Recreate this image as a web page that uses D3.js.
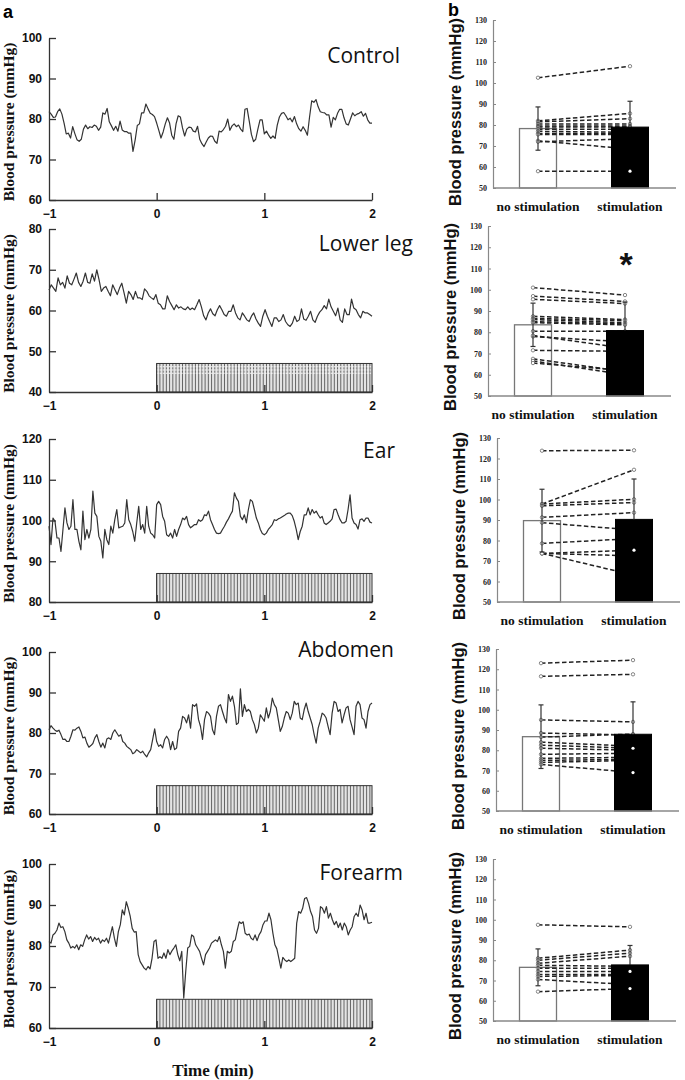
<!DOCTYPE html>
<html><head><meta charset="utf-8">
<script src="https://cdn.jsdelivr.net/npm/d3@7"></script>
<style>body{margin:0;background:#fff} svg{display:block}</style>
</head><body>
<script>
// ---------------- DATA ----------------
const regions = ["Control", "Lower leg", "Ear", "Abdomen", "Forearm"];
const timeDomain = [-1, 2];            // min, each series evenly sampled across this window
const timeTicks = [-1, 0, 1, 2];
const stimWindow = [0, 2];              // min
const pulseStep = 0.03;                 // min between stimulation pulses
const stimLevels = [null, 47, 87, 67, 67];
const yDomainsA = [[60, 100], [40, 80], [80, 120], [60, 100], [60, 100]];

const controlBP = [81.8,81.2,80.4,80.5,81.8,82.5,81.2,79,76.3,76.5,75.3,78.1,76.4,74.9,74.5,75,77.5,78.5,77.6,78.1,77.9,78.5,78.2,77.2,78,81.5,81.2,82.6,79.3,78.3,77.2,78.2,77,79.5,77.3,76.9,76.9,76.5,76.5,72,74.8,78.4,78.8,81.5,81.5,83.7,82.5,81.4,81.1,80.6,79,77.2,75.3,76.8,78.8,80.3,79,76,75,78.8,80.8,80.5,77.8,75.8,77.5,78,77.9,77,76.8,78.2,75,73.9,73.2,74.3,75.3,75.8,75.7,74.5,74,77,76.8,77.4,78.2,80,77.2,78.3,78.8,78.1,78.5,77.5,76.9,82.4,82.6,79.5,76.2,74.4,75,77.5,79.8,79.8,76.3,77,76,75.2,75.8,75.2,78.5,80.5,81.4,81.6,80.8,79.8,80.2,79.3,80.6,78.8,77.6,77,78.1,77.2,76,80.5,84.5,84.1,84.8,83,81.8,81.6,81.5,81,81,78,80.4,79.8,81.4,82.4,82.4,80.3,78.8,78.5,80,81.5,80.8,81.2,81.4,81.8,80.7,81.4,79.8,79,79];

const lowerLegBP = [65,66.3,65.5,64.7,68,66.3,66.9,65.5,68.5,66.7,66.3,67.7,69.2,66.9,65.9,67.2,69.2,66.9,66.7,69,67.2,70,67.6,64.7,65.5,65.9,64.7,63.6,66.3,65.1,63.9,65.5,66.7,64.3,61.8,64.7,63.9,62.7,64.7,63.1,63.1,62.7,65.3,64.7,63.6,63.1,62.7,63.9,61.8,61.4,60.4,60.4,63.6,62.2,61.2,60.2,61.4,60.6,60.9,60.4,60.2,60.9,60.2,60.6,60.2,61.4,62.7,60.9,58.7,57.7,59.4,60.4,59.2,58.7,60.2,61.2,60.2,59,58.6,59.8,59.8,61.4,59.4,58.2,57.7,59.4,58.6,57.7,57.3,58.6,59.4,57.9,56.9,56.1,58.6,60.2,58.6,57.3,56.1,58.2,58.2,57.3,57.7,59,57.3,56.5,56.1,56.9,58.6,57.3,57.7,60.4,57.9,57.6,58.6,59.8,57.7,57.1,58.6,59.6,60.2,61.2,60.4,62.8,60.9,59.8,58.7,60.6,57.7,57.1,60.4,59,59,62.8,60.6,60.2,59,58.2,59.8,59.4,59.4,59,58.6];

const earBP = [98.6,94.1,100.6,99.8,95.7,95.7,92.4,97.8,103.1,99.4,97.8,98.6,105.1,97.8,97.8,94.9,92.8,102.3,95.3,97.8,95.7,97.8,107.2,101.8,101,96.1,94.9,90.8,97.8,95.3,94.1,98.6,96.9,100.2,102.7,98.2,98.4,98.6,99.4,105.1,100.2,99,97.3,94.9,99.4,103.5,97.8,99,96.9,103.5,98.6,96.9,96.5,95.7,103.9,104.7,103.9,101,99.8,96.5,96.1,96.9,95.7,97.8,96.1,97.8,99,100.6,100.2,101,99,98.2,98.6,99,99,100.2,99.8,100.2,101.4,101.2,102.3,100.2,99,97.8,96.9,96.8,96.9,97.8,98.6,99.6,100.4,101.4,102.3,106.8,105.5,104.7,101,100.2,101.4,99.4,102.7,105.1,104.7,102.7,100.6,99.4,97.8,96.8,96.5,96.9,97.8,98.4,99,100.2,100,100.4,100.6,100.9,101.2,101.6,101.8,101.8,101.2,99.8,97.8,95.3,97.3,98.6,101.4,101.4,103.1,101.4,102.7,101.8,102.3,101.4,100.6,101,99.4,99,99.4,99.8,100.4,102.7,102.8,101.4,100.2,99.4,99.4,99.8,102.7,106.3,100.6,99.4,99,97.9,100.2,100.4,99.8,100.6,100.6,99.6,99.4];

const abdomenBP = [80.8,81.8,81.2,80.7,80.4,80.7,79.6,78.4,78.5,77.9,77.9,79.2,80.8,80.7,81.2,81.5,80.4,78.8,79,77.5,76.5,76.9,77.4,78.8,79.6,77.9,76.5,77.5,76.3,78.5,78.8,78.4,80,80.8,80,79.2,79.6,77.9,77.5,76.7,76.3,75.9,74.9,75.2,75.9,75.5,75.1,75.5,74.7,74.1,75.1,75.9,78.4,81,77.9,76.7,77.1,76.3,78.4,79.2,78.4,75.9,77.9,75.9,76.3,80.4,81.2,84.1,83.7,82.5,84.5,81.2,87,86.6,87.2,83.3,81.6,78.4,83.3,85.3,84.9,84.1,80.8,79.6,84.1,86.6,87,85.3,83.7,82.5,89.5,87.8,89.1,86.6,82.1,82.5,90.9,84.1,87,85.3,85.8,85.3,83.3,82.1,80,81.2,84.5,83.7,82.9,86.2,83.7,85.3,88.6,87,86.2,83.3,80.4,81.6,83.7,85.3,84.9,83.3,84.9,87.8,87,87.4,83.7,83.3,85.8,87.4,85.3,83.7,82.1,79.6,77.5,81.2,82.9,84.9,84.5,83.7,81.6,79.6,84.9,87.8,87.4,85.3,85.8,82.5,84.5,86.2,86.6,83.3,81.5,79.6,86.6,87.8,87,83.7,83.3,81.2,85.3,87,87.4];

const forearmBP = [81.1,80.7,82.7,83.1,83.9,85.6,84.5,84.7,83.5,81.5,80.7,79.5,79.9,79.5,80.3,79.1,80.3,79.9,81.5,82.7,81.7,82.3,81.1,82.1,81.5,81.9,80.7,81.5,81.1,81.9,80.7,82.7,84.7,81.9,79.9,83.5,85.2,88.8,87.6,90.8,89.2,87.2,84.3,83.4,83.5,77.9,76.2,75.4,74.6,74.2,75,74.4,77,81.1,81.5,77,77.4,77,78.3,77,79.1,77.9,78.8,79.5,80.3,77.9,76.4,78.7,67.3,73.8,79.5,79.9,82.7,82.3,80.3,79.5,78.7,77,75.4,77.9,78.7,79.5,80.7,81.1,81.5,81.1,82.3,80.3,78.7,74.6,78.7,78.3,78.7,81.1,81.5,83.9,85.9,85.5,85.9,83.1,82.7,82.9,81.9,81.5,82.7,81.3,82.7,83.5,85.2,86.1,86.1,88,86.4,83.1,80.3,79.3,77,74.6,77.2,76.6,76.2,76.6,76.2,76.6,77,85.6,88.4,88,89.2,91.6,91.8,90.4,88.4,87.2,83.9,83.1,84.3,89.6,89.2,88,89.6,86.8,88,86.4,85.2,86,84.5,85.6,83.9,85.6,84.7,82.7,83.9,84.7,87.2,88,87.2,90,88.8,86.4,88,85.6,85.6,85.8];

// panel b
const groups = ["no stimulation", "stimulation"];
const bTicks = [50, 60, 70, 80, 90, 100, 110, 120, 130];
const controlPairs = [[102.5,108],[82,85.5],[81.5,83],[80.5,80.5],[79.5,79.5],[79,79],[78,78],[77,76.5],[76,76],[75.5,75.5],[72.5,68.5],[72,73.5],[58,58]];
const lowerLegPairs = [[101,97.5],[97,94.5],[95.5,93.5],[87.5,86],[86.5,85.5],[86,84.5],[85,84],[84.5,83.5],[80.5,80.5],[78,75.5],[78.5,72.5],[71.5,71],[67.5,61.5],[66.5,60],[65.5,62]];
const earPairs = [[123.8,124],[97.8,114.5],[97.8,100.1],[96.9,98.5],[91.3,93.6],[88.7,85.1],[78.6,81],[73.7,75.3],[73.7,72.5],[73.7,63.1]];
const abdomenPairs = [[123,124.5],[116.5,117.5],[95,94],[88.5,87.5],[86.5,88],[84,82],[82.5,81],[81,80],[78,78.5],[76,76.5],[75,75.5],[74,75],[73,69]];
const forearmPairs = [[97.5,96.5],[81,85],[80,83.5],[78.5,82],[77.5,77],[76,76],[74.5,74.5],[73,73],[72,72.5],[70.5,68],[64.5,66]];
// subjects whose stimulation value shows as a white dot inside the black bar
const dotsInBar = [[12], [], [7], [6, 12], [6, 10]];
const meansB = [[78.3,79.0],[83.5,80.8],[89.7,90.3],[86.7,87.9],[76.5,77.7]];
const sdB = [[10.3,12.3],[10.2,13.4],[15.3,19.7],[15.7,16.0],[9.1,9.6]];
const significant = [false, true, false, false, false];

const seriesA = [controlBP, lowerLegBP, earBP, abdomenBP, forearmBP];
const pairsB = [controlPairs, lowerLegPairs, earPairs, abdomenPairs, forearmPairs];

// ---------------- LAYOUT ----------------
const layoutA = [
  {top:38,  bottom:200,  titleX:400, titleY:63},
  {top:229, bottom:392,  titleX:413, titleY:251},
  {top:439, bottom:602,  titleX:395, titleY:458},
  {top:652, bottom:814,  titleX:394, titleY:657},
  {top:864, bottom:1028, titleX:403, titleY:880}
];
const layoutB = [
  {top:20,  bottom:188,  axisX:493, labelDy:8},
  {top:226, bottom:396,  axisX:488, labelDy:6},
  {top:438, bottom:602,  axisX:497, labelDy:6},
  {top:649, bottom:811,  axisX:496, labelDy:6},
  {top:859, bottom:1021, axisX:493, labelDy:6}
];

const svg = d3.select("body").append("svg").attr("width", 685).attr("height", 1080)
  .style("font-family", "'Liberation Sans', Arial, sans-serif");

const ink = "#333";
const x = d3.scaleLinear().domain(timeDomain).range([49, 372]);

// panel letters
svg.append("text").attr("x", 3).attr("y", 18).text("a")
  .attr("font-size", 18).attr("font-weight", "bold");
svg.append("text").attr("x", 448).attr("y", 16).text("b")
  .attr("font-size", 18).attr("font-weight", "bold");

// ---------------- PANEL A ----------------
layoutA.forEach((L, i) => {
  const dom = yDomainsA[i];
  const y = d3.scaleLinear().domain(dom).range([L.bottom, L.top]);
  const g = svg.append("g");
  const vals = seriesA[i];
  const n = vals.length;
  const pts = vals.map((v, k) => [timeDomain[0] + (timeDomain[1] - timeDomain[0]) * k / (n - 1), v]);

  if (stimLevels[i] != null) {
    const x0 = x(stimWindow[0]), x1 = x(stimWindow[1]);
    const yt = y(stimLevels[i]), yb = y(dom[0]);
    g.append("rect").attr("x", x0).attr("y", yt).attr("width", x1 - x0).attr("height", yb - yt)
      .attr("fill", "#e4e4e4");
    const pulses = d3.range(stimWindow[0], stimWindow[1] + 1e-9, pulseStep);
    g.selectAll("line.pulse").data(pulses).join("line").attr("class", "pulse")
      .attr("x1", d => x(d)).attr("x2", d => x(d)).attr("y1", yt).attr("y2", yb)
      .attr("stroke", "#444").attr("stroke-width", 0.8);
    if (i === 1) {
      g.selectAll("line.h").data([46.2, 45.4, 44.6]).join("line").attr("class", "h")
        .attr("x1", x0).attr("x2", x1).attr("y1", d => y(d)).attr("y2", d => y(d))
        .attr("stroke", "#f8f8f8").attr("stroke-width", 1).attr("stroke-dasharray", "2,1");
    }
    g.append("rect").attr("x", x0).attr("y", yt).attr("width", x1 - x0).attr("height", yb - yt)
      .attr("fill", "none").attr("stroke", ink).attr("stroke-width", 1);
  }

  g.append("path").datum(pts)
    .attr("d", d3.line().x(d => x(d[0])).y(d => y(d[1])))
    .attr("fill", "none").attr("stroke", "#333").attr("stroke-width", 1.2)
    .attr("stroke-linejoin", "round");

  const ay = g.append("g").attr("transform", `translate(${x(timeDomain[0])},0)`)
    .call(d3.axisLeft(y).tickValues(d3.range(dom[0], dom[1] + 1, 10)).tickSize(-7).tickSizeOuter(0).tickPadding(7));
  const ax = g.append("g").attr("transform", `translate(0,${L.bottom})`)
    .call(d3.axisBottom(x).tickValues(timeTicks).tickFormat(d3.format("d")).tickSize(-7).tickSizeOuter(0).tickPadding(9));
  [ay, ax].forEach(a => {
    a.select(".domain").attr("stroke", ink).attr("stroke-width", 1.3);
    a.selectAll(".tick line").attr("stroke", ink).attr("stroke-width", 1.3);
    a.selectAll(".tick text").attr("fill", "#111")
      .attr("font-family", "'Liberation Sans Narrow','Arial Narrow',sans-serif")
      .attr("font-weight", "bold").attr("font-size", 12);
  });
  ax.selectAll(".tick").filter(d => d === timeDomain[0]).select("line").remove();

  g.append("text").attr("transform", `translate(14,${(L.top + L.bottom) / 2 + 3}) rotate(-90)`)
    .attr("text-anchor", "middle").text("Blood pressure (mmHg)")
    .attr("font-family", "'Liberation Serif','Times New Roman',serif")
    .attr("font-weight", "bold").attr("font-size", 15.5).attr("fill", "#111");

  g.append("text").attr("x", L.titleX).attr("y", L.titleY).attr("text-anchor", "end")
    .text(regions[i]).attr("font-family", "'Open Sans','Noto Sans',sans-serif")
    .attr("font-size", 21).attr("fill", "#111");
});

svg.append("text").attr("x", 213).attr("y", 1076).attr("text-anchor", "middle")
  .text("Time (min)").attr("font-family", "'Liberation Serif','Times New Roman',serif")
  .attr("font-weight", "bold").attr("font-size", 17).attr("fill", "#111");

// ---------------- PANEL B ----------------
layoutB.forEach((R, i) => {
  const y = d3.scaleLinear().domain([50, 130]).range([R.bottom, R.top]);
  const xc = d3.scalePoint().domain(groups).range([R.axisX + 45, R.axisX + 137]);
  const bw = 37;
  const g = svg.append("g");
  const means = meansB[i], sds = sdB[i];
  const pairs = pairsB[i];

  // white (no stimulation) bar, behind the paired lines
  g.append("rect").attr("x", xc(groups[0]) - bw / 2).attr("width", bw)
    .attr("y", y(means[0])).attr("height", y(50) - y(means[0]))
    .attr("fill", "#fff").attr("stroke", "#777").attr("stroke-width", 1.3);

  // paired lines
  g.selectAll("line.pair").data(pairs).join("line").attr("class", "pair")
    .attr("x1", xc(groups[0])).attr("x2", xc(groups[1]))
    .attr("y1", d => y(d[0])).attr("y2", d => y(d[1]))
    .attr("stroke", "#222").attr("stroke-width", 1.5).attr("stroke-dasharray", "4.5,2.5");
  const pts = pairs.flatMap(d => [[groups[0], d[0]], [groups[1], d[1]]]);
  g.selectAll("circle.pt").data(pts).join("circle").attr("class", "pt")
    .attr("cx", d => xc(d[0])).attr("cy", d => y(d[1])).attr("r", 1.7)
    .attr("fill", "#fff").attr("stroke", "#555").attr("stroke-width", 0.7);

  // black (stimulation) bar on top
  g.append("rect").attr("x", xc(groups[1]) - bw / 2).attr("width", bw)
    .attr("y", y(means[1])).attr("height", y(50) - y(means[1]))
    .attr("fill", "#000").attr("stroke", "#000").attr("stroke-width", 1);
  g.selectAll("circle.inbar").data(dotsInBar[i].map(k => pairs[k][1])).join("circle").attr("class", "inbar")
    .attr("cx", xc(groups[1])).attr("cy", d => y(d)).attr("r", 1.6).attr("fill", "#fff");

  // error bars (lower whisker of the black bar is hidden inside it)
  const eb = g.selectAll("g.eb").data(groups).join("g").attr("class", "eb");
  eb.append("line").attr("x1", d => xc(d)).attr("x2", d => xc(d))
    .attr("y1", (d, j) => j ? y(means[j]) : y(means[j] - sds[j])).attr("y2", (d, j) => y(means[j] + sds[j]))
    .attr("stroke", "#333").attr("stroke-width", 1.2);
  eb.append("line").attr("x1", d => xc(d) - 2.5).attr("x2", d => xc(d) + 2.5)
    .attr("y1", (d, j) => y(means[j] + sds[j])).attr("y2", (d, j) => y(means[j] + sds[j]))
    .attr("stroke", "#333").attr("stroke-width", 1.2);
  eb.filter((d, j) => j === 0).append("line").attr("x1", d => xc(d) - 2.5).attr("x2", d => xc(d) + 2.5)
    .attr("y1", y(means[0] - sds[0])).attr("y2", y(means[0] - sds[0]))
    .attr("stroke", "#333").attr("stroke-width", 1.2);

  // axes
  const ay = g.append("g").attr("transform", `translate(${R.axisX},0)`)
    .call(d3.axisLeft(y).tickValues(bTicks).tickSize(-3).tickSizeOuter(0).tickPadding(6));
  ay.select(".domain").attr("stroke", "#888").attr("stroke-width", 1.2);
  ay.selectAll(".tick line").attr("stroke", "#888");
  ay.selectAll(".tick text").attr("font-family", "'Liberation Serif','Times New Roman',serif")
    .attr("font-weight", "bold").attr("font-size", 8).attr("fill", "#222");
  g.append("line").attr("x1", R.axisX).attr("x2", R.axisX + 183)
    .attr("y1", y(50)).attr("y2", y(50)).attr("stroke", "#888").attr("stroke-width", 1.3);

  g.selectAll("text.cat").data(groups).join("text").attr("class", "cat")
    .attr("x", d => xc(d)).attr("y", R.bottom + 23).attr("text-anchor", "middle").text(d => d)
    .attr("font-family", "'Liberation Serif','Times New Roman',serif")
    .attr("font-weight", "bold").attr("font-size", 13.5).attr("fill", "#111");

  g.append("text").attr("transform", `translate(${R.axisX - 32},${(R.top + R.bottom) / 2 + R.labelDy}) rotate(-90)`)
    .attr("text-anchor", "middle").text("Blood pressure (mmHg)")
    .attr("font-weight", "bold").attr("font-size", 16.5).attr("fill", "#111");

  if (significant[i]) {
    g.append("text").attr("x", xc(groups[1]) + 1).attr("y", y(113) + 14).attr("text-anchor", "middle")
      .text("*").attr("font-weight", "bold").attr("font-size", 34).attr("fill", "#111");
  }
});
</script>
</body></html>
